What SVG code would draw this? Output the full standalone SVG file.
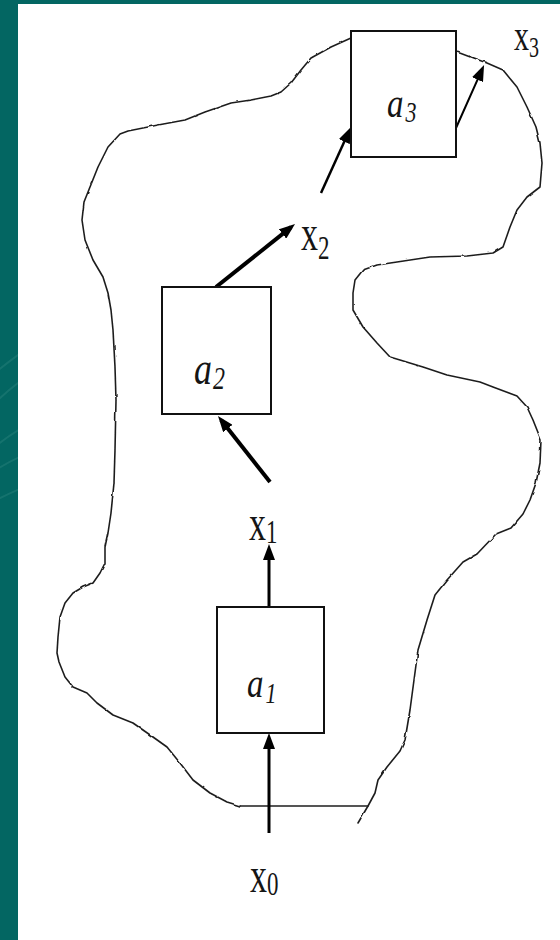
<svg xmlns="http://www.w3.org/2000/svg" width="560" height="940" viewBox="0 0 560 940">
  <defs>
    <style>
      .box { fill: #ffffff; stroke: #111111; stroke-width: 2; }
      .edge { fill: none; stroke: #000000; stroke-linecap: butt; stroke-linejoin: round; marker-end: url(#head); }
      .outline { fill: none; stroke: #1e1e1e; stroke-width: 1.6; stroke-linejoin: round; stroke-linecap: round; }
      .sym { font-family: "Liberation Serif", "Times New Roman", serif; font-style: italic; fill: #151515; }
      .var { font-family: "Liberation Serif", "Times New Roman", serif; fill: #151515; }
      .streak { fill: none; stroke: #4a9a95; stroke-width: 2; opacity: 0.25; }
    </style>
    <marker id="head" viewBox="0 0 16 12" markerWidth="16" markerHeight="12" refX="11" refY="6" orient="auto" markerUnits="userSpaceOnUse">
      <path d="M0,0 L16,6 L0,12 z" fill="#000000"/>
    </marker>
    <filter id="rough" x="-5%" y="-5%" width="110%" height="110%">
      <feTurbulence type="fractalNoise" baseFrequency="0.09" numOctaves="2" seed="4"/>
      <feDisplacementMap in="SourceGraphic" scale="2.2" xChannelSelector="R" yChannelSelector="G"/>
    </filter>
    <clipPath id="strip"><rect x="0" y="0" width="18" height="940"/></clipPath>
  </defs>

  <!-- slide frame -->
  <g id="frame">
    <rect x="0" y="0" width="560" height="940" fill="#036662"/>
    <g clip-path="url(#strip)">
      <path class="streak" d="M-4,372 Q8,362 22,352"/>
      <path class="streak" d="M-4,402 Q8,390 22,380"/>
      <path class="streak" d="M-4,446 Q8,436 22,428"/>
      <path class="streak" d="M-4,470 Q8,462 22,456"/>
      <path class="streak" d="M-4,500 Q8,494 22,488"/>
    </g>
    <rect x="18" y="4" width="542" height="936" fill="#ffffff"/>
  </g>

  <!-- irregular region boundary -->
  <g id="region">
    <path class="outline" filter="url(#rough)" d="M351,38 L331,47 L311,58 L301,70 L291,83 L281,92 L271,96 L251,100 L231,103 L205,112 L185,120 L158,125 L128,131 L120,134 L108,147 L98,167 L90,187 L84,202 L82,220 L85,240 L93,260 L103,277 L108,293 L111,310 L113,330 L115,367 L116,400 L115,450 L114,483 L111,513 L108,533 L105,547 L105,563 L100,573 L93,583 L83,587 L73,593 L65,603 L60,617 L58,637 L57,653 L59,662 L65,677 L73,687 L87,693 L97,703 L113,715 L133,723 L153,737 L167,747 L180,763 L193,780 L210,793 L227,802 L240,806"/>
    <path class="outline" d="M240,806 L368,806"/>
    <path class="outline" filter="url(#rough)" d="M358,823 L368,806 L375,793 L378,780 L387,767 L400,751 L405,740 L410,710 L414,680 L418,650 L427,620 L435,595 L447,580 L463,562 L477,554 L496,534 L511,528 L523,514 L530,500 L536,483 L540,463 L541,440 L533,420 L527,407 L517,396 L493,387 L480,382 L447,375 L423,367 L400,360 L390,357 L377,343 L363,327 L353,310 L353,293 L355,280 L363,270 L377,265 L397,262 L430,257 L467,256 L493,253 L503,247 L510,227 L517,210 L527,197 L540,187 L542,163 L540,143 L536,127 L527,107 L517,87 L503,70 L487,63 L473,58 L457,52"/>
  </g>

  <!-- connectors -->
  <g id="connectors">
    <path class="edge" stroke-width="3" d="M269,833 L269,738"/>
    <path class="edge" stroke-width="3" d="M269,606 L269,549"/>
    <path class="edge" stroke-width="4" d="M270,482 L221.1,419.9"/>
    <path class="edge" stroke-width="4" d="M216,287 L291.1,227.1"/>
    <path class="edge" stroke-width="2.5" d="M321,193 L348.9,131.6"/>
    <path class="edge" stroke-width="2" d="M452,128 L456,128 L482,69.6"/>
  </g>

  <!-- operator nodes -->
  <g id="node-a1">
    <rect class="box" x="217" y="607" width="107" height="126"/>
    <text class="sym" font-size="33" transform="translate(247,697) scale(1,1.3)">a<tspan font-size="22" dx="2" dy="4.6">1</tspan></text>
  </g>
  <g id="node-a2">
    <rect class="box" x="162" y="287" width="109" height="127"/>
    <text class="sym" font-size="36" transform="translate(194,384) scale(1,1.3)">a<tspan font-size="24" dx="1" dy="4">2</tspan></text>
  </g>
  <g id="node-a3">
    <rect class="box" x="351" y="31" width="105" height="126"/>
    <text class="sym" font-size="33" transform="translate(387,117) scale(1,1.3)">a<tspan font-size="22" dx="2" dy="4">3</tspan></text>
  </g>

  <!-- state labels -->
  <g id="node-x0">
    <text class="var" font-size="34" transform="translate(250,892) scale(1,1.5)">x<tspan font-size="23" dy="2">0</tspan></text>
  </g>
  <g id="node-x1">
    <text class="var" font-size="34" transform="translate(249,540) scale(1,1.5)">x<tspan font-size="23" dy="2">1</tspan></text>
  </g>
  <g id="node-x2">
    <text class="var" font-size="34" transform="translate(301,250) scale(1,1.5)">x<tspan font-size="23" dy="6">2</tspan></text>
  </g>
  <g id="node-x3">
    <text class="var" font-size="30" transform="translate(514,50) scale(1,1.5)">x<tspan font-size="20" dx="0" dy="4.7">3</tspan></text>
  </g>
</svg>
